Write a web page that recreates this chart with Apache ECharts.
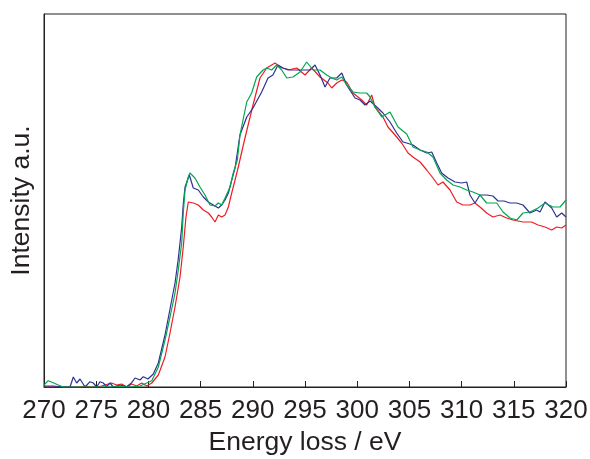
<!DOCTYPE html>
<html>
<head>
<meta charset="utf-8">
<script src="https://cdn.jsdelivr.net/npm/echarts@6/dist/echarts.min.js"></script>
<style>html,body{margin:0;padding:0;background:#fff}#c{width:590px;height:459px}</style>
</head>
<body>
<div id="c"></div>
<script>
var xTicks = [270, 275, 280, 285, 290, 295, 300, 305, 310, 315, 320];

var greenE = [270.0,270.41,270.89,271.37,271.85,272.49,273.45,274.41,275.36,276.32,277.28,278.24,279.2,279.84,280.32,280.95,281.59,282.07,282.55,282.86,283.19,283.34,283.51,283.82,283.98,284.46,284.94,285.42,285.9,286.38,286.7,287.02,287.34,287.82,288.13,288.52,288.77,289.42,289.89,290.37,290.98,291.33,291.81,292.29,292.77,293.25,293.85,294.52,295.16,295.77,296.44,297.08,297.56,298.04,298.52,298.99,299.6,300.27,300.91,301.23,301.7,302.35,303.14,303.91,304.74,305.34,306.02,306.66,307.26,307.93,308.57,309.18,309.85,310.49,311.09,311.76,312.4,313.36,313.97,314.64,315.28,315.88,316.55,317.32,317.99,318.75,319.43,320.0];
var greenI = [2,6.3,4.3,2,0,0,0,0,0,0,0.5,0,1,4,6.3,20,47,70,94,117,144,174,197,210,214,209,200,192,182,181,184,182,189,200,214,227,252,285,294,310,317,319,317,322,317,309,310,315,325,317,317,312,309,307,310,302,295,294,294,290,280,270,275,260,253,240,237,235,230,214,207,202,200,197,195,192,184,184,175,169,167,174,175,179,184,180,180,187];

var blueE = [270.0,270.86,271.82,272.49,272.81,273.13,273.45,273.93,274.41,274.72,275.05,275.36,275.68,276.0,276.32,276.64,277.28,277.92,278.4,278.72,279.2,279.51,279.96,280.47,280.95,281.59,282.07,282.55,282.86,283.19,283.34,283.51,283.92,284.3,284.78,285.26,285.74,286.22,286.7,287.02,287.34,287.66,287.98,288.3,288.77,289.42,290.02,290.85,291.46,291.93,292.41,292.89,293.56,294.52,295.48,295.96,296.44,296.92,297.39,298.04,298.52,298.99,299.79,300.27,300.75,301.23,301.87,302.47,303.14,303.78,304.39,304.74,305.34,306.02,306.66,307.14,307.62,308.09,308.7,309.37,310.01,310.49,310.8,311.28,311.76,312.4,313.0,313.49,314.06,314.64,315.28,315.88,316.55,317.19,317.51,317.99,318.63,319.11,319.59,320.0];
var blueI = [1,1,0,0,10,4,8,0,5.3,4,0,5.3,4,0.3,4,0,2,0.3,4.3,9,7,10.3,8,13,24,52,78,104,128,160,183,200,212,199,197,190,185,182,179,182,187,194,207,219,252,270,279,295,309,312,322,319,317,317,317,322,312,300,309,309,314,302,289,287,282,286,280,274,265,254,245,244,242,237,234,235,224,214,209,205,204,205,192,184,192,192,191,186,186,184,184,182,174,177,175,185,179,170,174,170];

var redE = [270.0,273.45,273.93,274.41,275.36,276.48,276.96,277.44,277.92,278.4,278.88,279.36,279.84,280.32,280.95,281.59,282.07,282.55,283.03,283.34,283.6,283.82,283.98,284.3,284.78,285.26,285.74,286.06,286.38,286.7,287.02,287.34,287.66,287.98,288.3,288.61,289.25,290.02,290.69,291.33,292.13,292.61,293.37,294.21,295.0,295.64,296.44,297.2,297.56,298.04,298.52,298.99,299.6,300.43,300.91,301.39,301.7,302.47,302.95,303.62,304.26,304.87,305.34,306.02,306.66,307.26,307.74,308.22,308.89,309.53,310.13,310.8,311.28,311.76,312.4,313.0,313.68,314.32,314.92,315.88,316.71,317.32,317.99,318.63,319.11,319.59,320.0];
var redI = [0,0,1,0,0.5,4,2,3,0,3,1,4,1,4,12,30,54,80,110,140,170,185,186,184,182,177,174,170,165,172,170,172,180,194,207,220,249,282,309,319,324,320,317,319,312,319,310,304,299,304,307,305,294,287,282,292,280,270,260,252,244,234,230,225,217,209,202,205,197,185,182,182,184,180,174,170,172,169,167,165,165,162,160,157,160,159,162];

function pairs(e, v) { return e.map(function (x, i) { return [x, v[i]]; }); }

var chart = echarts.init(document.getElementById('c'), null, { renderer: 'canvas' });
var font = 'Liberation Sans, Arial, sans-serif';
chart.setOption({
  animation: false,
  backgroundColor: '#ffffff',
  grid: { left: 44, right: 24, top: 14, bottom: 72, containLabel: false, outerBoundsMode: 'none', show: true, borderColor: '#231f20', borderWidth: 1, backgroundColor: 'transparent' },
  xAxis: {
    type: 'value', min: 270, max: 320, interval: 5,
    name: 'Energy loss / eV', nameLocation: 'middle', nameGap: 40,
    nameTextStyle: { fontFamily: font, fontSize: 26.5, color: '#231f20' },
    axisLine: { show: true, lineStyle: { color: '#231f20', width: 1 } },
    axisTick: { show: true, inside: true, length: 6, lineStyle: { color: '#231f20' } },
    axisLabel: { fontFamily: font, fontSize: 26, color: '#231f20', margin: 11,
      formatter: function (v) { return xTicks.indexOf(v) >= 0 ? String(v) : ''; } },
    splitLine: { show: false }
  },
  yAxis: {
    type: 'value', min: 0, max: 373,
    name: 'Intensity a.u.', nameLocation: 'middle', nameGap: 9, nameRotate: 90,
    nameTextStyle: { fontFamily: font, fontSize: 26.5, color: '#231f20' },
    axisLine: { show: true, lineStyle: { color: '#231f20', width: 1 } },
    axisTick: { show: false }, axisLabel: { show: false }, splitLine: { show: false }
  },
  series: [
    { name: 'red', type: 'line', data: pairs(redE, redI), showSymbol: false, lineStyle: { color: '#ed1c24', width: 1.2 }, itemStyle: { color: '#ed1c24' } },
    { name: 'blue', type: 'line', data: pairs(blueE, blueI), showSymbol: false, lineStyle: { color: '#2e3192', width: 1.2 }, itemStyle: { color: '#2e3192' } },
    { name: 'green', type: 'line', data: pairs(greenE, greenI), showSymbol: false, lineStyle: { color: '#00a651', width: 1.2 }, itemStyle: { color: '#00a651' } }
  ]
});
</script>
</body>
</html>
